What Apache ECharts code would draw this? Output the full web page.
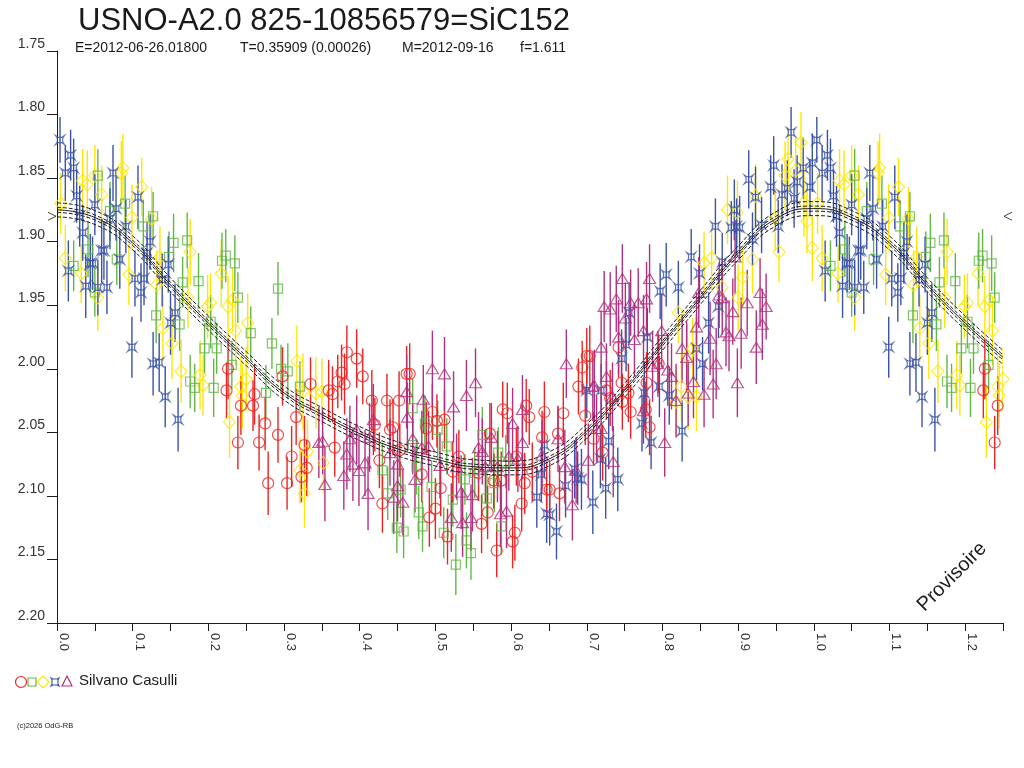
<!DOCTYPE html>
<html>
<head>
<meta charset="utf-8">
<title>USNO-A2.0 825-10856579=SiC152</title>
<script src="https://cdn.jsdelivr.net/npm/echarts@6/dist/echarts.min.js"></script>
<style>
html, body { margin: 0; padding: 0; background: #fff; }
#chart { width: 1024px; height: 768px; }
</style>
</head>
<body>
<div id="chart"></div>
<script>
// [phase, magnitude, error], phase 0..1 (0..0.25 is repeated after 1.0)
const redPts = [
  [0.224,2.017,.022],[0.226,2.000,.024],[0.239,2.058,.021],[0.243,2.029,.023],[0.259,2.029,.020],[0.261,2.020,.024],
  [0.267,2.058,.022],[0.275,2.043,.021],[0.279,2.090,.025],[0.292,2.052,.022],[0.298,2.006,.023],[0.304,2.090,.021],
  [0.310,2.069,.024],[0.316,2.038,.022],[0.323,2.085,.020],[0.327,2.060,.023],[0.330,2.078,.022],[0.335,2.012,.021],
  [0.359,2.017,.024],[0.364,2.020,.022],[0.367,2.062,.023],[0.371,2.010,.021],[0.376,2.003,.022],[0.380,2.012,.024],
  [0.383,1.987,.021],[0.396,1.992,.023],[0.404,2.006,.022],[0.416,2.025,.024],[0.420,2.044,.021],[0.426,2.072,.022],
  [0.430,2.106,.023],[0.436,2.025,.021],[0.440,2.048,.024],[0.444,2.046,.022],[0.452,2.025,.023],[0.453,2.064,.021],
  [0.462,2.004,.022],[0.466,2.004,.024],[0.482,2.083,.022],[0.488,2.047,.021],[0.492,2.117,.023],[0.496,2.034,.022],
  [0.500,2.110,.024],[0.502,2.041,.021],[0.507,2.094,.022],[0.512,2.040,.023],[0.516,2.132,.022],[0.523,2.081,.024],
  [0.531,2.069,.021],[0.557,2.082,.022],[0.561,2.122,.023],[0.569,2.113,.021],[0.572,2.051,.024],[0.577,2.088,.022],
  [0.581,2.143,.021],[0.587,2.088,.023],[0.589,2.032,.022],[0.595,2.035,.024],[0.602,2.136,.021],[0.605,2.129,.022],
  [0.607,2.069,.023],[0.614,2.106,.022],[0.618,2.090,.024],[0.620,2.029,.021],[0.624,2.038,.022],[0.628,2.081,.023],
  [0.641,2.054,.021],[0.644,2.034,.024],[0.647,2.095,.022],[0.651,2.095,.023],[0.662,2.051,.021],[0.664,2.098,.022],
  [0.669,2.035,.024],[0.689,2.014,.022],[0.694,1.999,.021],[0.698,2.037,.023],[0.700,1.990,.022],[0.704,1.990,.024],
  [0.709,2.055,.021],[0.721,2.066,.022],[0.726,2.017,.023],[0.731,2.023,.022],[0.742,1.983,.024],[0.746,2.011,.021],
  [0.747,2.026,.022],[0.755,2.019,.023],[0.758,2.034,.021],[0.778,2.032,.022],[0.779,2.011,.024],[0.783,2.046,.022],
  [0.795,1.996,.023]
];
const greenPts = [
  [0.022,1.919,.020],[0.041,1.906,.022],[0.050,1.940,.019],[0.054,1.848,.021],[0.070,1.876,.023],[0.079,1.914,.020],
  [0.090,1.870,.022],[0.114,1.888,.021],[0.127,1.880,.019],[0.131,1.958,.022],[0.148,1.912,.020],[0.154,1.901,.023],
  [0.162,1.965,.021],[0.166,1.932,.020],[0.172,1.899,.022],[0.176,2.010,.021],[0.182,2.015,.019],[0.187,1.931,.022],
  [0.195,1.984,.020],[0.203,1.963,.021],[0.207,2.015,.023],[0.211,1.984,.020],[0.218,1.915,.022],[0.223,1.911,.021],
  [0.231,1.997,.019],[0.235,1.917,.022],[0.239,1.944,.020],[0.256,1.972,.021],[0.276,2.019,.022],[0.284,1.980,.020],
  [0.292,1.937,.021],[0.296,2.000,.019],[0.305,2.002,.022],[0.321,2.014,.020],[0.430,2.080,.022],[0.437,2.098,.021],
  [0.449,2.125,.020],[0.454,2.095,.022],[0.458,2.128,.021],[0.470,2.031,.023],[0.470,2.060,.020],[0.475,2.077,.022],
  [0.478,2.113,.021],[0.483,2.124,.020],[0.486,2.043,.022],[0.495,2.093,.021],[0.503,2.048,.023],[0.511,2.129,.020],
  [0.515,2.061,.022],[0.523,2.103,.021],[0.527,2.154,.024],[0.539,2.087,.020],[0.541,2.135,.022],[0.547,2.145,.021],
  [0.552,2.082,.020],[0.562,2.052,.022],[0.568,2.102,.021],[0.578,2.090,.023],[0.583,2.066,.020],[0.587,2.124,.022],
  [0.593,2.073,.021]
];
const yellowPts = [
  [0.005,1.870,.024],[0.011,1.913,.026],[0.032,1.925,.023],[0.034,1.852,.025],[0.040,1.855,.027],[0.050,1.848,.024],
  [0.054,1.944,.026],[0.059,1.863,.023],[0.085,1.846,.025],[0.087,1.842,.027],[0.095,1.926,.024],[0.099,1.881,.026],
  [0.112,1.857,.023],[0.125,1.882,.025],[0.132,1.934,.027],[0.136,1.912,.024],[0.140,1.968,.026],[0.152,1.980,.028],
  [0.164,2.002,.025],[0.173,1.944,.024],[0.176,1.908,.026],[0.189,2.005,.027],[0.193,2.013,.024],[0.199,1.951,.025],
  [0.203,1.948,.023],[0.217,1.925,.026],[0.226,1.951,.024],[0.228,2.042,.028],[0.232,1.946,.025],[0.236,1.970,.027],
  [0.243,2.014,.024],[0.245,2.021,.026],[0.250,2.008,.025],[0.252,1.964,.023],[0.317,1.994,.028],[0.321,2.080,.026],
  [0.325,2.018,.030],[0.327,2.098,.027],[0.331,2.065,.025],[0.342,2.019,.028],[0.350,2.018,.026],[0.352,2.074,.024],
  [0.818,2.026,.026],[0.821,1.956,.024],[0.825,2.014,.027],[0.833,1.990,.025],[0.834,2.022,.026],[0.840,1.984,.024],
  [0.845,2.022,.027],[0.855,1.917,.025],[0.865,1.913,.026],[0.879,1.936,.024],[0.886,1.875,.027],[0.899,1.877,.025],
  [0.900,1.944,.026],[0.906,1.928,.024],[0.919,1.914,.027],[0.923,1.864,.025],[0.949,1.881,.026],[0.954,1.908,.024],
  [0.962,1.848,.027],[0.966,1.835,.025],[0.976,1.844,.026],[0.983,1.822,.024],[0.987,1.869,.027],[0.991,1.884,.025],
  [0.998,1.905,.026]
];
const bluePts = [
  [0.004,1.820,.018],[0.011,1.846,.022],[0.015,1.923,.024],[0.018,1.832,.020],[0.022,1.842,.023],[0.026,1.864,.021],
  [0.030,1.880,.024],[0.034,1.893,.022],[0.038,1.935,.025],[0.044,1.917,.023],[0.047,1.917,.021],[0.050,1.871,.024],
  [0.054,1.936,.022],[0.059,1.907,.025],[0.062,1.907,.023],[0.066,1.936,.021],[0.070,1.882,.024],[0.074,1.846,.022],
  [0.078,1.874,.025],[0.083,1.914,.023],[0.091,1.888,.021],[0.099,1.983,.024],[0.103,1.929,.022],[0.107,1.865,.025],
  [0.111,1.940,.023],[0.115,1.929,.021],[0.119,1.909,.024],[0.123,1.900,.022],[0.127,1.996,.025],[0.135,1.995,.023],
  [0.139,1.930,.021],[0.143,2.022,.024],[0.147,1.918,.022],[0.150,1.964,.025],[0.156,1.956,.023],[0.160,2.040,.025],
  [0.634,2.101,.024],[0.640,2.083,.022],[0.644,2.060,.025],[0.647,2.114,.023],[0.651,2.115,.024],[0.660,2.128,.022],
  [0.672,2.092,.025],[0.684,2.079,.023],[0.688,2.086,.021],[0.693,2.087,.024],[0.700,2.017,.022],[0.708,2.105,.025],
  [0.718,2.071,.023],[0.719,2.017,.021],[0.725,2.094,.024],[0.729,2.057,.022],[0.741,2.087,.025],[0.746,1.992,.023],
  [0.752,1.981,.021],[0.756,1.956,.024],[0.773,2.043,.022],[0.776,2.019,.025],[0.780,1.975,.023],[0.785,2.058,.021],
  [0.796,2.014,.024],[0.797,1.939,.022],[0.805,1.926,.025],[0.809,2.021,.023],[0.821,1.936,.021],[0.826,2.049,.024],
  [0.838,1.912,.022],[0.845,1.984,.025],[0.849,1.925,.023],[0.853,1.996,.021],[0.861,1.964,.024],[0.870,1.888,.022],
  [0.874,1.951,.025],[0.879,1.916,.023],[0.891,1.889,.021],[0.895,1.875,.024],[0.898,1.888,.022],[0.902,1.889,.025],
  [0.914,1.851,.023],[0.919,1.898,.021],[0.923,1.865,.024],[0.931,1.887,.022],[0.943,1.857,.025],[0.947,1.840,.023],
  [0.953,1.888,.021],[0.958,1.863,.024],[0.965,1.858,.022],[0.970,1.814,.020],[0.974,1.866,.023],[0.978,1.853,.021],
  [0.986,1.842,.024],[0.995,1.857,.022],[0.998,1.838,.023]
];
const purplePts = [
  [0.346,2.058,.028],[0.351,2.057,.026],[0.354,2.091,.029],[0.379,2.084,.027],[0.383,2.067,.028],[0.387,2.055,.026],
  [0.391,2.075,.029],[0.396,2.048,.027],[0.399,2.080,.028],[0.407,2.074,.026],[0.411,2.098,.029],[0.413,2.054,.027],
  [0.418,2.040,.028],[0.440,2.066,.026],[0.445,2.101,.029],[0.450,2.075,.027],[0.450,2.092,.028],[0.457,2.105,.026],
  [0.462,2.018,.029],[0.463,2.038,.027],[0.470,2.055,.028],[0.473,2.087,.026],[0.482,2.062,.029],[0.484,2.024,.027],
  [0.491,2.061,.028],[0.496,2.000,.030],[0.506,2.076,.026],[0.512,2.004,.029],[0.521,2.117,.027],[0.524,2.030,.028],
  [0.528,2.077,.026],[0.534,2.097,.029],[0.536,2.121,.027],[0.541,2.021,.028],[0.547,2.117,.026],[0.549,2.099,.029],
  [0.553,2.011,.027],[0.557,2.062,.028],[0.562,2.065,.026],[0.566,2.077,.029],[0.574,2.054,.027],[0.582,2.077,.028],
  [0.586,2.114,.026],[0.594,2.112,.029],[0.597,2.069,.027],[0.602,2.043,.028],[0.609,2.071,.026],[0.615,2.058,.029],
  [0.615,2.032,.027],[0.641,2.068,.028],[0.662,2.055,.026],[0.671,2.077,.029],[0.673,1.996,.027],[0.681,2.107,.028],
  [0.686,2.080,.026],[0.702,2.072,.029],[0.708,2.014,.027],[0.710,2.013,.028],[0.713,2.047,.026],[0.719,1.983,.029],
  [0.719,2.047,.027],[0.723,1.951,.028],[0.726,2.006,.026],[0.731,1.953,.029],[0.734,2.022,.027],[0.735,2.073,.028],
  [0.739,1.945,.026],[0.742,1.975,.029],[0.747,1.929,.027],[0.751,1.960,.028],[0.758,1.948,.026],[0.763,1.977,.029],
  [0.768,1.948,.027],[0.775,1.970,.028],[0.775,2.033,.026],[0.779,1.945,.029],[0.783,1.929,.027],[0.787,1.998,.028],
  [0.794,1.996,.026],[0.799,1.970,.029],[0.803,2.058,.027],[0.807,2.001,.028],[0.812,2.006,.026],[0.818,2.025,.029],
  [0.826,1.984,.027],[0.832,1.991,.028],[0.834,2.019,.026],[0.841,2.010,.029],[0.845,1.967,.027],[0.848,1.940,.028],
  [0.855,2.020,.026],[0.863,1.976,.029],[0.867,2.012,.027],[0.871,1.996,.028],[0.875,1.942,.026],[0.879,1.944,.029],
  [0.884,1.971,.027],[0.888,1.974,.028],[0.893,1.955,.026],[0.896,1.912,.029],[0.899,2.011,.027],[0.904,1.972,.028],
  [0.912,1.948,.026],[0.924,1.983,.029],[0.929,1.940,.027],[0.932,1.965,.028],[0.937,1.951,.026]
];

// fitted light curve, read every 0.05 in phase
const fitPhase = [0, 0.05, 0.10, 0.15, 0.20, 0.25, 0.30, 0.35, 0.40, 0.45, 0.50, 0.55, 0.60,
                  0.65, 0.70, 0.75, 0.80, 0.85, 0.90, 0.95, 1.00, 1.05, 1.10, 1.15, 1.20, 1.25];
const fitMag = [1.875, 1.881, 1.901, 1.934, 1.964, 1.992, 2.019, 2.036, 2.051, 2.063, 2.071, 2.077, 2.078,
                2.071, 2.049, 2.017, 1.980, 1.944, 1.909, 1.882, 1.874, 1.881, 1.901, 1.934, 1.964, 1.991];
const bandOffsets = [0.002, 0.0055];
const markMag = 1.880;

const C = {
  red: '#ee2222', green: '#62b845', yellow: '#ffe600', blue: '#3b52a6', purple: '#b2307f', ink: '#1a1a1a'
};
const FONT = '"Liberation Sans", Arial, sans-serif';
const BLUE_SYM = 'path://M0,0 L3,2 L7,2 L10,0 L8,3 L8,7 L10,10 L7,8 L3,8 L0,10 L2,7 L2,3 Z';

// repeat phases 0..0.25 after 1.0, as on the folded plot
function fold(pts) {
  return pts.concat(pts.filter(p => p[0] <= 0.25).map(p => [p[0] + 1, p[1], p[2]]));
}

function barSeries(pts, color) {
  return {
    type: 'custom',
    data: fold(pts),
    encode: { x: 0, y: 1 },
    silent: true,
    clip: true,
    z: 2,
    renderItem: function (params, api) {
      const x = api.value(0), y = api.value(1), e = api.value(2);
      const a = api.coord([x, y - e]);
      const b = api.coord([x, y + e]);
      return {
        type: 'line',
        shape: { x1: a[0], y1: a[1], x2: b[0], y2: b[1] },
        style: { stroke: color, lineWidth: 1.4 }
      };
    }
  };
}

function symSeries(pts, color, symbol, size) {
  return {
    type: 'scatter',
    data: fold(pts).map(p => [p[0], p[1]]),
    symbol: symbol,
    symbolSize: size,
    silent: true,
    z: 3,
    itemStyle: { color: 'rgba(0,0,0,0)', borderColor: color, borderWidth: 1.2 }
  };
}

function curve(offset, dashed) {
  return {
    type: 'line',
    data: fitPhase.map((p, i) => [p, fitMag[i] + offset]),
    smooth: 0.5,
    showSymbol: false,
    silent: true,
    z: 5,
    lineStyle: { color: C.ink, width: 1, type: dashed ? [4, 2] : 'solid' }
  };
}

const sets = [
  [yellowPts, C.yellow, 'diamond', [12, 13]],
  [greenPts, C.green, 'rect', [9, 9]],
  [bluePts, C.blue, BLUE_SYM, [9, 9]],
  [redPts, C.red, 'circle', 11],
  [purplePts, C.purple, 'triangle', [12, 10]]
];

const series = [];
sets.forEach(s => {
  series.push(barSeries(s[0], s[1]));
  series.push(symSeries(s[0], s[1], s[2], s[3]));
});
series.push(curve(0, false));
bandOffsets.forEach(o => {
  series.push(curve(o, true));
  series.push(curve(-o, true));
});
series.push({
  type: 'scatter',
  silent: true,
  z: 6,
  data: [
    { value: [0, markMag], symbol: 'path://M0,0 L8,4 L0,8', symbolOffset: [-5, 0] },
    { value: [1.25, markMag], symbol: 'path://M8,0 L0,4 L8,8', symbolOffset: [5, 0] }
  ],
  symbolSize: [8, 8],
  itemStyle: { color: 'rgba(0,0,0,0)', borderColor: C.ink, borderWidth: 1 }
});

const chart = echarts.init(document.getElementById('chart'), null, { renderer: 'canvas' });
chart.setOption({
  animation: false,
  backgroundColor: '#ffffff',
  textStyle: { fontFamily: FONT },
  title: [{
    text: 'USNO-A2.0 825-10856579=SiC152',
    left: 73, top: 1,
    textStyle: { fontSize: 31, fontWeight: 'normal', color: C.ink, fontFamily: FONT }
  }],
  grid: { left: 57, right: 21, top: 51, bottom: 145, containLabel: false },
  xAxis: {
    type: 'value',
    min: 0, max: 1.25, interval: 0.05,
    axisLine: { lineStyle: { color: C.ink, width: 1 } },
    axisTick: { length: 8, lineStyle: { color: C.ink } },
    splitLine: { show: false },
    axisLabel: {
      rotate: -90,
      margin: 10,
      verticalAlign: 'bottom',
      fontSize: 13,
      color: '#333',
      formatter: v => (Math.round(v * 100) % 10 === 0 && v < 1.25) ? v.toFixed(1) : ''
    }
  },
  yAxis: {
    type: 'value',
    inverse: true,
    min: 1.75, max: 2.20, interval: 0.05,
    axisLine: { show: true, lineStyle: { color: C.ink, width: 1 } },
    axisTick: { show: true, length: 10, lineStyle: { color: C.ink } },
    splitLine: { show: false },
    axisLabel: {
      margin: 12,
      verticalAlign: 'bottom',
      fontSize: 14,
      color: '#333',
      formatter: v => v.toFixed(2)
    }
  },
  graphic: [
    { type: 'text', left: 75, top: 41, style: { text: 'E=2012-06-26.01800', fontSize: 14, fill: C.ink, fontFamily: FONT } },
    { type: 'text', left: 240, top: 41, style: { text: 'T=0.35909 (0.00026)', fontSize: 14, fill: C.ink, fontFamily: FONT } },
    { type: 'text', left: 402, top: 41, style: { text: 'M=2012-09-16', fontSize: 14, fill: C.ink, fontFamily: FONT } },
    { type: 'text', left: 520, top: 41, style: { text: 'f=1.611', fontSize: 14, fill: C.ink, fontFamily: FONT } },
    {
      type: 'text', x: 952, y: 577, rotation: Math.PI / 4,
      style: { text: 'Provisoire', fontSize: 20, fill: C.ink, fontFamily: FONT, align: 'center', verticalAlign: 'middle' }
    },
    { type: 'circle', shape: { cx: 21, cy: 682, r: 5.5 }, style: { fill: 'none', stroke: C.red, lineWidth: 1.2 } },
    { type: 'rect', shape: { x: 28, y: 678, width: 8, height: 8 }, style: { fill: 'none', stroke: C.green, lineWidth: 1.2 } },
    { type: 'polygon', shape: { points: [[43, 676], [49, 682], [43, 688], [37, 682]] }, style: { fill: 'none', stroke: C.yellow, lineWidth: 1.2 } },
    {
      type: 'polygon',
      shape: { points: [[51, 678], [53, 679], [57, 679], [59, 678], [58, 680], [58, 684], [59, 686], [57, 685], [53, 685], [51, 686], [52, 684], [52, 680]] },
      style: { fill: 'none', stroke: C.blue, lineWidth: 1.1 }
    },
    { type: 'polygon', shape: { points: [[67, 676], [72, 686], [62, 686]] }, style: { fill: 'none', stroke: C.purple, lineWidth: 1.2 } },
    { type: 'text', left: 79, top: 673, style: { text: 'Silvano Casulli', fontSize: 15, fill: C.ink, fontFamily: FONT } },
    { type: 'text', left: 17, top: 722, style: { text: '(c)2026 OdG-RB', fontSize: 7.5, fill: C.ink, fontFamily: FONT } }
  ],
  series: series
});
</script>
</body>
</html>
